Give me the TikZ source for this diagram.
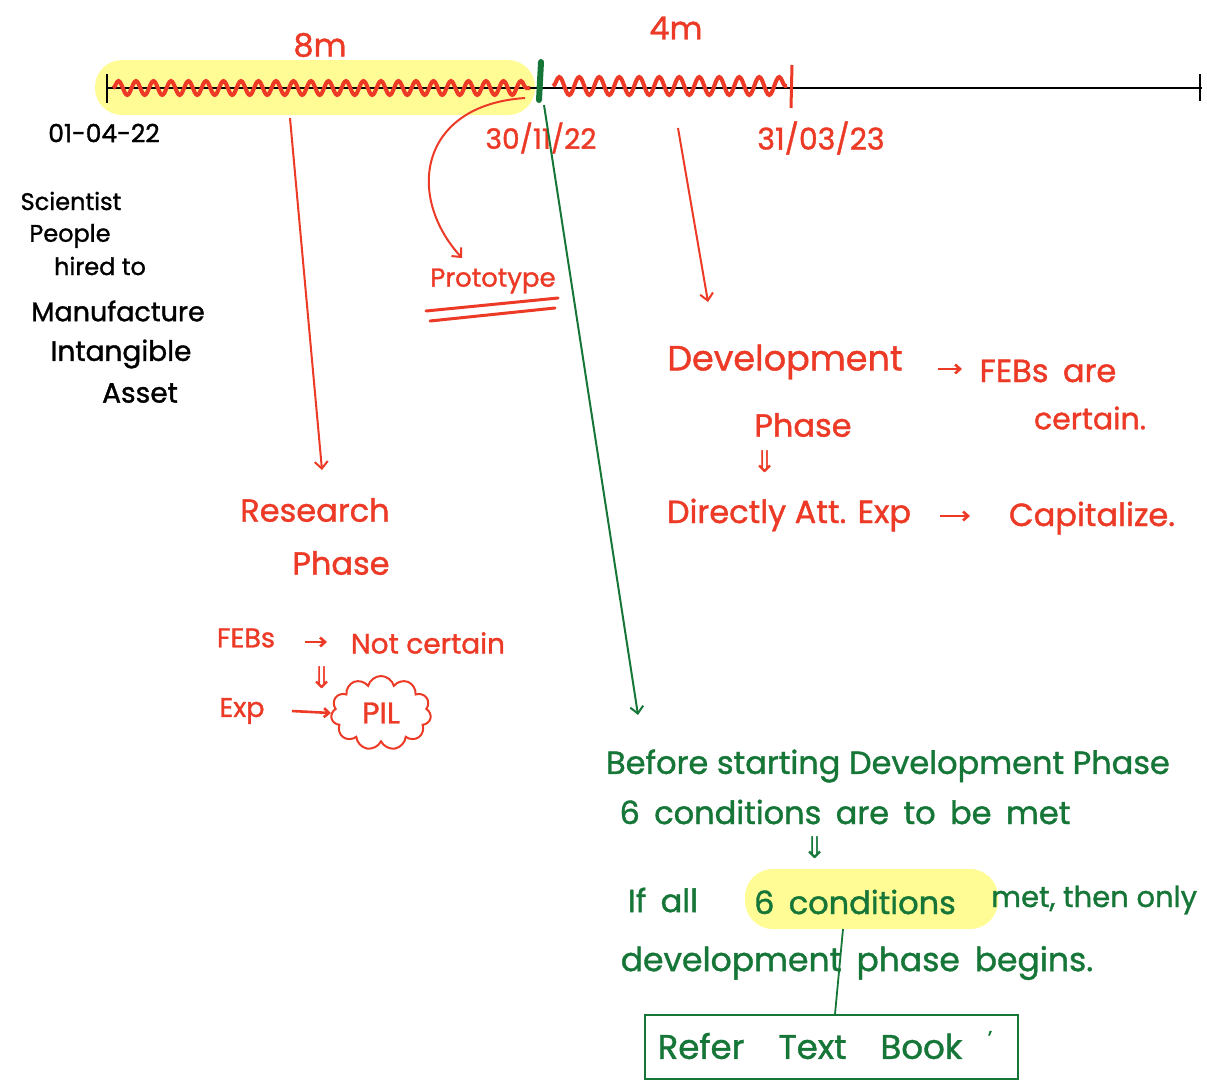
\documentclass[tikz,border=0pt]{standalone}
\usepackage{fontspec}
\setmainfont{Poppins}[FakeBold=1.2]
\newfontfamily\symf{DejaVu Sans}
\usetikzlibrary{arrows.meta,decorations.pathmorphing,shapes.symbols}
\definecolor{pen}{RGB}{236,58,38}
\definecolor{ink}{RGB}{22,118,56}
\definecolor{hl}{RGB}{255,252,150}
\newcommand{\fs}[1]{\fontsize{#1}{#1}\selectfont}
\newcommand{\ws}{\spaceskip=0.45em\relax}
\begin{document}
\begin{tikzpicture}[x=1pt,y=-1pt,
  rtxt/.style={text=pen, inner sep=0pt, font=\fs{32}},
  gtxt/.style={text=ink, inner sep=0pt, font=\fs{32}},
  ktxt/.style={text=black, inner sep=0pt, font=\fs{24}},
  rarrow/.style={draw=pen, line width=2pt, -{Straight Barb[length=7pt,width=13pt]}},
  garrow/.style={draw=ink, line width=2pt, -{Straight Barb[length=7pt,width=13pt]}},
  rsmall/.style={draw=pen, line width=2.6pt, -{Straight Barb[length=5pt,width=9pt]}},
  wave/.style={draw=pen, line width=4pt, decorate},
  dbl/.style={inner sep=0pt, font=\symf\fs{30}}
]
\useasboundingbox (0,0) rectangle (1207,1079);

% timeline
\fill[hl, rounded corners=27pt] (95,60) rectangle (535,115);
\coordinate (t0) at (107,88);
\coordinate (t1) at (1202,88);
\draw[line width=2.5pt] (t0) -- (t1);
\draw[line width=2.5pt] (107,74) -- (107,103);
\draw[line width=2.5pt] (1200,74) -- (1200,101);
\draw[wave, decoration={snake, segment length=17.5pt, amplitude=7pt}] (113,88) -- (530,88);
\draw[wave, decoration={snake, segment length=20pt, amplitude=9pt}] (553,86) -- (787,86);
\draw[pen, line width=3pt] (792,65) -- (791,108);
\draw[ink, line width=6pt, line cap=round] (541,62) -- (539,100);

\node[rtxt, font=\fs{32}] (m8) at (320,45) {8m};
\node[rtxt, font=\fs{32}] (m4) at (676,28) {4m};
\node[ktxt, font=\fs{25}] (d1) at (104,133) {01-04-22};
\node[rtxt, font=\fs{28}] (d2) at (541,138) {30/11/22};
\node[rtxt, font=\fs{30}] (d3) at (821,138) {31/03/23};

% left notes
\node[ktxt, font=\fs{24}] (k1) at (71,201) {Scientist};
\node[ktxt, font=\fs{24}] (k2) at (70,236) {People};
\node[ktxt, font=\fs{24}] (k3) at (100,266) {hired to};
\node[ktxt, font=\fs{27}] (k4) at (118,311) {Manufacture};
\node[ktxt, font=\fs{28}] (k5) at (121,354) {Intangible};
\node[ktxt, font=\fs{28}] (k6) at (140,393) {Asset};

% research
\coordinate (rs) at (290,118);
\node[rtxt, font=\fs{32}] (res) at (315,510) {Research};
\node[rtxt, font=\fs{32}] (resph) at (341,563) {Phase};
\draw[rarrow] (rs) -- (322,470);
\node[rtxt, font=\fs{27}] (febs1) at (246,638) {FEBs};
\node[rtxt, font=\fs{28}] (nc) at (428,643) {Not certain};
\coordinate (a1) at (305,642);
\coordinate (a2) at (327,642);
\draw[rsmall] (a1) -- (a2);
\node[dbl, text=pen] (dd1) at (322,678) {⇓};
\node[rtxt, font=\fs{27}] (exp1) at (242,711) {Exp};
\node[cloud, draw=pen, line width=2pt, cloud puffs=11, aspect=1.5, minimum width=100pt, minimum height=74pt, inner sep=0pt, text=pen, font=\fs{30}] (pil) at (381,713) {PIL};
\coordinate (a3) at (292,711);
\draw[rsmall] (a3) -- (pil.west);

% prototype
\coordinate (ps) at (525,98);
\node[rtxt, font=\fs{26}] (proto) at (493,281) {Prototype};
\draw[rarrow] (ps) .. controls (420,105) and (405,195) .. (462,258);
\draw[pen, line width=3pt, line cap=round] (426,311) -- (558,298);
\draw[pen, line width=3pt, line cap=round] (430,321) -- (555,308);

% green connector
\coordinate (gs) at (544,105);
\coordinate (ge) at (638,715);
\draw[garrow] (gs) -- (ge);

% development
\coordinate (ds) at (678,128);
\node[rtxt, font=\fs{35}] (dev) at (785,362) {Development};
\draw[rarrow] (ds) -- (708,302);
\node[rtxt, font=\fs{32}] (febs2) at (1048,371) {\ws FEBs are};
\node[rtxt, font=\fs{30}] (cert) at (1090,418) {certain.};
\coordinate (a4) at (938,369);
\coordinate (a5) at (962,369);
\draw[rsmall] (a4) -- (a5);
\node[rtxt, font=\fs{32}] (devph) at (803,425) {Phase};
\node[dbl, text=pen] (dd2) at (765,462) {⇓};
\node[rtxt, font=\fs{32}] (dae) at (789,515) {Directly Att. Exp};
\node[rtxt, font=\fs{32}] (cap) at (1092,518) {Capitalize.};
\coordinate (a6) at (940,516);
\coordinate (a7) at (970,516);
\draw[rsmall] (a6) -- (a7);

% green block
\node[gtxt, font=\fs{32}] (g1) at (888,766) {Before starting Development Phase};
\node[gtxt, font=\fs{32}] (g2) at (845,812) {\ws 6 conditions are to be met};
\node[dbl, text=ink] (dd3) at (815,848) {⇓};
\fill[hl, rounded corners=28pt] (745,869) rectangle (998,929);
\node[gtxt, font=\fs{32}] (g3a) at (663,900) {\ws If all};
\node[gtxt, font=\fs{32}] (g3b) at (855,902) {\ws 6 conditions};
\node[gtxt, font=\fs{29}, anchor=west] (g3c) at (991,900) {met, then only};
\node[gtxt, font=\fs{33}] (g4) at (857,963) {\ws development phase begins.};
\node[draw=ink, line width=1.8pt, minimum width=373pt, minimum height=64pt, inner sep=0pt] (box) at (831.5,1047) {};
\node[gtxt, font=\fs{34}] (ref) at (810,1046) {Refer\quad Text\quad Book};
\node[gtxt, font=\fs{20}] (tick) at (990,1038) {'};
\coordinate (gl) at (843,929);
\draw[ink, line width=1.8pt] (gl) -- (box.north -| 835,0);
\end{tikzpicture}
\end{document}
